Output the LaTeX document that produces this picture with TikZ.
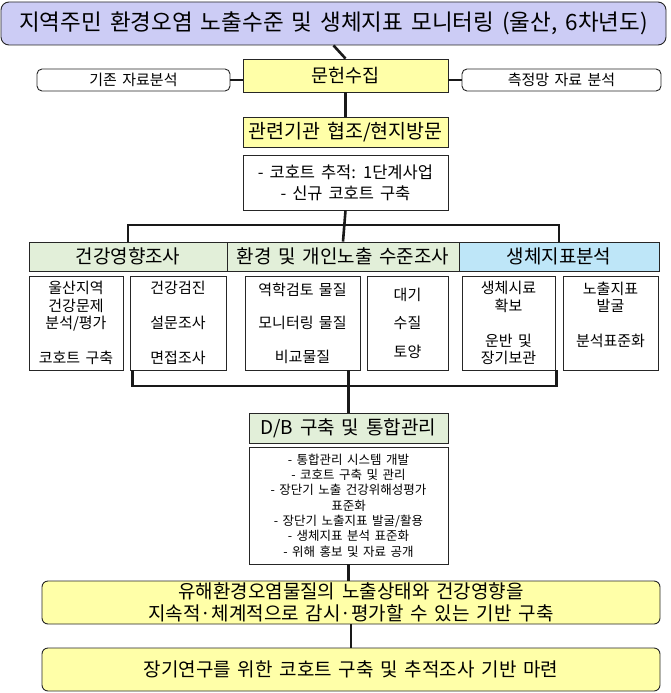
\documentclass[tikz,border=0pt]{standalone}
\usepackage{fontspec}
\setmainfont{Noto Sans CJK KR}[WordSpace=1.6]
\definecolor{titlefill}{RGB}{204,204,245}
\definecolor{notefill}{RGB}{255,255,168}
\definecolor{surveyfill}{RGB}{226,239,217}
\definecolor{markerfill}{RGB}{190,230,248}
\tikzset{
  box/.style={draw=black!85, line width=0.9pt, inner sep=0pt, align=center},
  link/.style={line width=2.6pt, black!90},
}

\begin{document}
\begin{tikzpicture}[x=1pt,y=-1pt]
            \useasboundingbox (0,0) rectangle (671,693);
            % Draw the title
            \node[box, rounded corners=8pt, fill=titlefill, minimum width=665pt, minimum height=43pt,
                  font=\fontsize{22.5}{25}\selectfont] (title) at (333.5,23.5)
                  {지역주민 환경오염 노출수준 및 생체지표 모니터링 (울산, 6차년도)};

            % Draw the literature row
            \node[box, fill=notefill, minimum width=205pt, minimum height=33pt,
                  font=\fontsize{18.5}{21}\selectfont] (lit) at (345.5,75.5) {문헌수집};
            \node[box, rounded corners=5pt, fill=white, minimum width=193pt, minimum height=22pt,
                  font=\fontsize{15}{17}\selectfont] (oldData) at (133.5,80) {기존 자료분석};
            \node[box, rounded corners=5pt, fill=white, minimum width=199pt, minimum height=22pt,
                  font=\fontsize{15}{17}\selectfont] (netData) at (561.5,80) {측정망 자료 분석};
            \node[box, fill=notefill, minimum width=205pt, minimum height=30pt,
                  font=\fontsize{19.5}{22}\selectfont] (visit) at (345.5,132) {관련기관 협조/현지방문};
            \node[box, fill=white, minimum width=205pt, minimum height=55pt,
                  font=\fontsize{16.5}{21}\selectfont] (cohort) at (345.5,182.5)
                  {- 코호트 추적: 1단계사업\\- 신규 코호트 구축};

            % Draw the three survey headers
            \node[box, fill=surveyfill, minimum width=198pt, minimum height=29pt,
                  font=\fontsize{19}{21}\selectfont] (health) at (128,256.5) {건강영향조사};
            \node[box, fill=surveyfill, minimum width=232pt, minimum height=29pt,
                  font=\fontsize{19}{21}\selectfont] (expo) at (343,256.5) {환경 및 개인노출 수준조사};
            \node[box, fill=markerfill, minimum width=200pt, minimum height=29pt,
                  font=\fontsize{19}{21}\selectfont] (marker) at (559,256.5) {생체지표분석};

            % Draw the six items under the headers
            \node[box, minimum width=94pt, minimum height=94pt, font=\fontsize{15}{17.5}\selectfont]
                  (itemA) at (76,323) {울산지역\\건강문제\\분석/평가\\[17.5pt]코호트 구축};
            \node[box, minimum width=96pt, minimum height=94pt, font=\fontsize{15}{17.5}\selectfont]
                  (itemB) at (178,323) {건강검진\\[17.5pt]설문조사\\[17.5pt]면접조사};
            \node[box, minimum width=115pt, minimum height=94pt, font=\fontsize{15}{17.5}\selectfont]
                  (itemC) at (302.5,323) {역학검토 물질\\[16pt]모니터링 물질\\[16pt]비교물질};
            \node[box, minimum width=81pt, minimum height=94pt, font=\fontsize{15}{17.5}\selectfont]
                  (itemD) at (407.5,323) {대기\\[11pt]수질\\[11pt]토양};
            \node[box, minimum width=93pt, minimum height=94pt, font=\fontsize{15}{17.5}\selectfont]
                  (itemE) at (508.5,323) {생체시료\\확보\\[17.5pt]운반 및\\장기보관};
            \node[box, minimum width=95pt, minimum height=94pt, font=\fontsize{15}{17.5}\selectfont]
                  (itemF) at (610.5,323) {노출지표\\발굴\\[17.5pt]분석표준화\\~};

            % Draw the database boxes
            \node[box, fill=surveyfill, minimum width=199pt, minimum height=30pt,
                  font=\fontsize{19}{21}\selectfont] (db) at (348.5,428) {D/B 구축 및 통합관리};
            \node[box, fill=white, minimum width=199pt, minimum height=117pt,
                  font=\fontsize{12.5}{15.3}\selectfont] (dbList) at (348.5,505.5)
                  {- 통합관리 시스템 개발\\- 코호트 구축 및 관리\\- 장단기 노출 건강위해성평가\\표준화\\%
                   - 장단기 노출지표 발굴/활용\\- 생체지표 분석 표준화\\- 위해 홍보 및 자료 공개};

            % Draw the two goals
            \node[box, rounded corners=6pt, fill=notefill, minimum width=618pt, minimum height=43pt,
                  font=\fontsize{19}{22}\selectfont] (goalA) at (351,602.5)
                  {유해환경오염물질의 노출상태와 건강영향을\\지속적·체계적으로 감시·평가할 수 있는 기반 구축};
            \node[box, rounded corners=6pt, fill=notefill, minimum width=618pt, minimum height=43pt,
                  font=\fontsize{19}{22}\selectfont] (goalB) at (351,669.5)
                  {장기연구를 위한 코호트 구축 및 추적조사 기반 마련};

            % Draw the connectors
            \draw[link] (title.south) -- (lit.north);
            \draw[link] (oldData.east) -- (oldData.east -| lit.west);
            \draw[link] (netData.west) -- (netData.west -| lit.east);
            \draw[link] (lit.south) -- (visit.north);

            \coordinate (hub) at (346,225);
            \draw[link] (cohort.south) -- (expo.north);
            \draw[link] (health.north) |- (hub) -| (marker.north);

            \coordinate (low) at (348.5,386);
            \draw[link] ([xshift=3pt]itemB.south west) |- (low) -| ([xshift=1pt]itemE.south east);
            \draw[link] (db.north |- itemC.south) -- (db.north);
            \draw[link] (dbList.south) -- (dbList.south |- goalA.north);
            \draw[link] (goalA.south) -- (goalB.north);

        \end{tikzpicture}
\end{document}
